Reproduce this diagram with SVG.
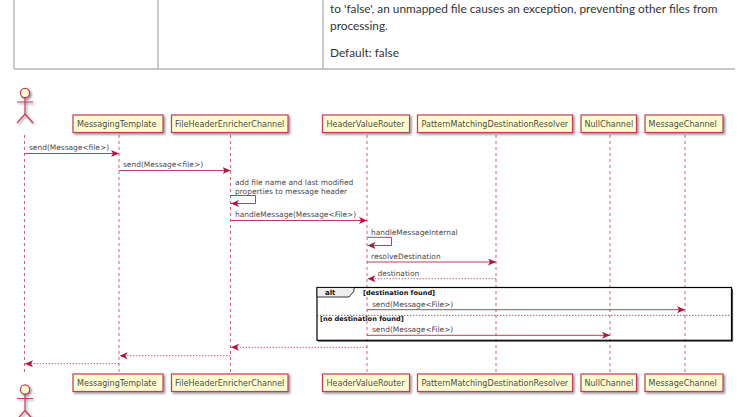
<svg xmlns="http://www.w3.org/2000/svg" width="742" height="417" viewBox="0 0 742 417">
<style>
text{font-family:"DejaVu Sans",sans-serif;font-size:8.05px;fill:#4a4a4a}
.l{font-size:7.45px}
.doc{font-family:"Lato",sans-serif;font-size:11.85px;fill:#333}
.b{font-weight:bold;fill:#111;font-size:6.6px}
.box{fill:#fefece;stroke:#c23a5c;stroke-width:1.2;filter:url(#sh)}
.ll{stroke:#c23a5c;stroke-width:.8;stroke-dasharray:3 3;fill:none}
.m{stroke:#c23a5c;stroke-width:1;fill:none;marker-end:url(#a)}
.r{stroke:#c23a5c;stroke-width:.8;stroke-dasharray:1.5 1.5;fill:none;marker-end:url(#a)}
.actor{fill:none;stroke:#c23a5c;stroke-width:1.2}
.tb{stroke:#b5b5b5;stroke-width:1.4;fill:none}
</style>
<defs>
<filter id="sh" x="-10%" y="-20%" width="125%" height="150%"><feDropShadow dx="1.5" dy="1.5" stdDeviation="1" flood-color="#000" flood-opacity=".45"/></filter>
<marker id="a" markerUnits="userSpaceOnUse" markerWidth="9" markerHeight="8" refX="8" refY="3.500" orient="auto"><path d="M0 0L8 3.500L0 7L2 3.500Z" fill="#b5113f"/></marker>
<g id="stick" filter="url(#sh)"><circle cx="0" cy="0" r="4.6" fill="#fefece" stroke="#c23a5c" stroke-width="1.2"/><path class="actor" d="M0 4.600V21M-8 9H8M0 21L-8 30M0 21L8 30"/></g>
</defs>
<rect width="742" height="417" fill="#fff"/>
<g id="table"><path class="tb" d="M14 0V69M158 0V69M323 0V69M14 69H735"/>
<text class="doc" x="330" y="12.500">to 'false', an unmapped file causes an exception, preventing other files from</text>
<text class="doc" x="330" y="29.500">processing.</text>
<text class="doc" x="330" y="56.500">Default: false</text></g>
<g id="lifelines"><path class="ll" d="M24.500 135V374M119 135V374M230.500 135V374M367 135V374M496 135V374M610 135V374M685 135V374"/></g>
<g id="actor-top"><use href="#stick" x="25" y="93"/></g>
<g id="actor-bottom"><use href="#stick" x="25" y="389.500"/></g>
<g id="n1"><rect class="box" x="73" y="115" width="90" height="17.500"/><text x="77" y="126.500">MessagingTemplate</text></g>
<g id="n2"><rect class="box" x="171.500" y="115" width="116.500" height="17.500"/><text x="175" y="126.500">FileHeaderEnricherChannel</text></g>
<g id="n3"><rect class="box" x="322.500" y="115" width="87" height="17.500"/><text x="326.500" y="126.500">HeaderValueRouter</text></g>
<g id="n4"><rect class="box" x="417.500" y="115" width="155" height="17.500"/><text x="421.500" y="126.500">PatternMatchingDestinationResolver</text></g>
<g id="n5"><rect class="box" x="581" y="115" width="55.500" height="17.500"/><text x="584.500" y="126.500">NullChannel</text></g>
<g id="n6"><rect class="box" x="645" y="115" width="78" height="17.500"/><text x="648.500" y="126.500">MessageChannel</text></g>
<g id="n1b"><rect class="box" x="73" y="374" width="90" height="17.500"/><text x="77" y="385.500">MessagingTemplate</text></g>
<g id="n2b"><rect class="box" x="171.500" y="374" width="116.500" height="17.500"/><text x="175" y="385.500">FileHeaderEnricherChannel</text></g>
<g id="n3b"><rect class="box" x="322.500" y="374" width="87" height="17.500"/><text x="326.500" y="385.500">HeaderValueRouter</text></g>
<g id="n4b"><rect class="box" x="417.500" y="374" width="155" height="17.500"/><text x="421.500" y="385.500">PatternMatchingDestinationResolver</text></g>
<g id="n5b"><rect class="box" x="581" y="374" width="55.500" height="17.500"/><text x="584.500" y="385.500">NullChannel</text></g>
<g id="n6b"><rect class="box" x="645" y="374" width="78" height="17.500"/><text x="648.500" y="385.500">MessageChannel</text></g>
<g id="alt">
<path d="M318 341.200H732.500V289" fill="none" stroke="#555" stroke-width="1.200"/>
<rect x="317" y="287.500" width="414.500" height="52.800" fill="none" stroke="#000" stroke-width="1.200"/>
<path d="M317 287.500H354V291L349 297H317Z" fill="#eee" stroke="#000" stroke-width=".8"/>
<text class="b" x="325" y="295" style="font-size:7px">alt</text>
<text class="b" x="363" y="295">[destination found]</text>
<path d="M317 315.300H731" stroke="#333" stroke-width=".7" stroke-dasharray="1.500 1.500"/>
<text class="b" x="320" y="321">[no destination found]</text>
</g>
<g id="connectors">
<path class="m" d="M24.500 153.500H119"/><text class="l" x="29" y="149.500">send(Message&lt;file&gt;)</text>
<path class="m" d="M119 170.500H230.500"/><text class="l" x="123" y="166.500">send(Message&lt;file&gt;)</text>
<text class="l" x="235" y="184.500">add file name and last modified</text><text class="l" x="235" y="193.500">properties to message header</text>
<path class="m" d="M230.500 195.500H255.500V203.500H231"/>
<path class="m" d="M230.500 220.500H367"/><text class="l" x="235" y="217">handleMessage(Message&lt;File&gt;)</text>
<path class="m" d="M367 237.300H391.500V245.500H367.500"/><text class="l" x="371" y="234.500">handleMessageInternal</text>
<path class="m" d="M367 262H496"/><text class="l" x="371" y="259">resolveDestination</text>
<path class="r" d="M496 278.700H367.500"/><text class="l" x="377.500" y="275.700">destination</text>
<path class="m" d="M367 309.700H685"/><text class="l" x="372" y="307">send(Message&lt;File&gt;)</text>
<path class="m" d="M367 335.300H610"/><text class="l" x="372" y="332">send(Message&lt;File&gt;)</text>
<path class="r" d="M367 347.300H231"/>
<path class="r" d="M230.500 355.700H119.500"/>
<path class="r" d="M119 363.700H25"/>
</g>
</svg>
